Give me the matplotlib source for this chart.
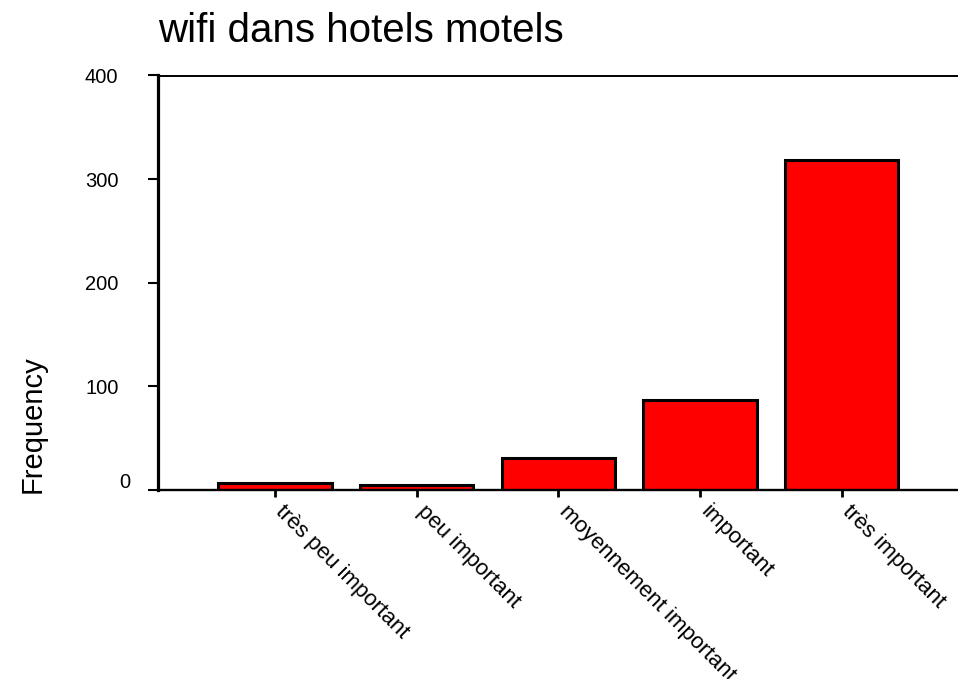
import matplotlib
matplotlib.use("Agg")
import matplotlib.pyplot as plt
from matplotlib.transforms import ScaledTranslation

plt.rcParams["font.family"] = ["Liberation Sans", "DejaVu Sans"]

categories = ["très peu important", "peu important", "moyennement important",
              "important", "très important"]
frequency = [7, 5, 31, 87, 318]
yticks = [0, 100, 200, 300, 400]

fig = plt.figure(figsize=(9.58, 6.79), dpi=100)
ax = fig.add_axes([158 / 958, 1 - 490 / 679, 1 - 158 / 958, (490 - 75.5) / 679])

ax.bar(range(len(categories)), frequency, width=0.8, color="#ff0000",
       edgecolor="black", linewidth=2.2)

ax.set_xlim(-0.825, 4.82)
ax.set_ylim(0, 400)
ax.set_yticks(yticks)
ax.set_xticks(range(len(categories)))
ax.set_xticklabels(categories, rotation=-45, ha="left", va="baseline",
                   rotation_mode="anchor", fontsize=16)

ax.spines["right"].set_visible(False)
ax.spines["left"].set_linewidth(2.3)
ax.spines["bottom"].set_linewidth(1.7)
ax.spines["top"].set_linewidth(1.4)
ax.tick_params(axis="y", length=7.5, width=1.5, pad=21, labelsize=14.5)
ax.tick_params(axis="x", length=5, width=2, pad=11)

# the "0" label sits a bit higher and closer to the axis
zero_lbl = ax.get_yticklabels()[0]
zero_lbl.set_transform(zero_lbl.get_transform() +
                       ScaledTranslation(0.12, 0.10, fig.dpi_scale_trans))

ax.set_ylabel("Frequency", fontsize=21)
ax.yaxis.set_label_coords(47 / 958, 1 - 424 / 679, transform=fig.transFigure)

ax.set_title("wifi dans hotels motels", loc="left", fontsize=29, pad=24)

fig.savefig("out.png", dpi=100)
